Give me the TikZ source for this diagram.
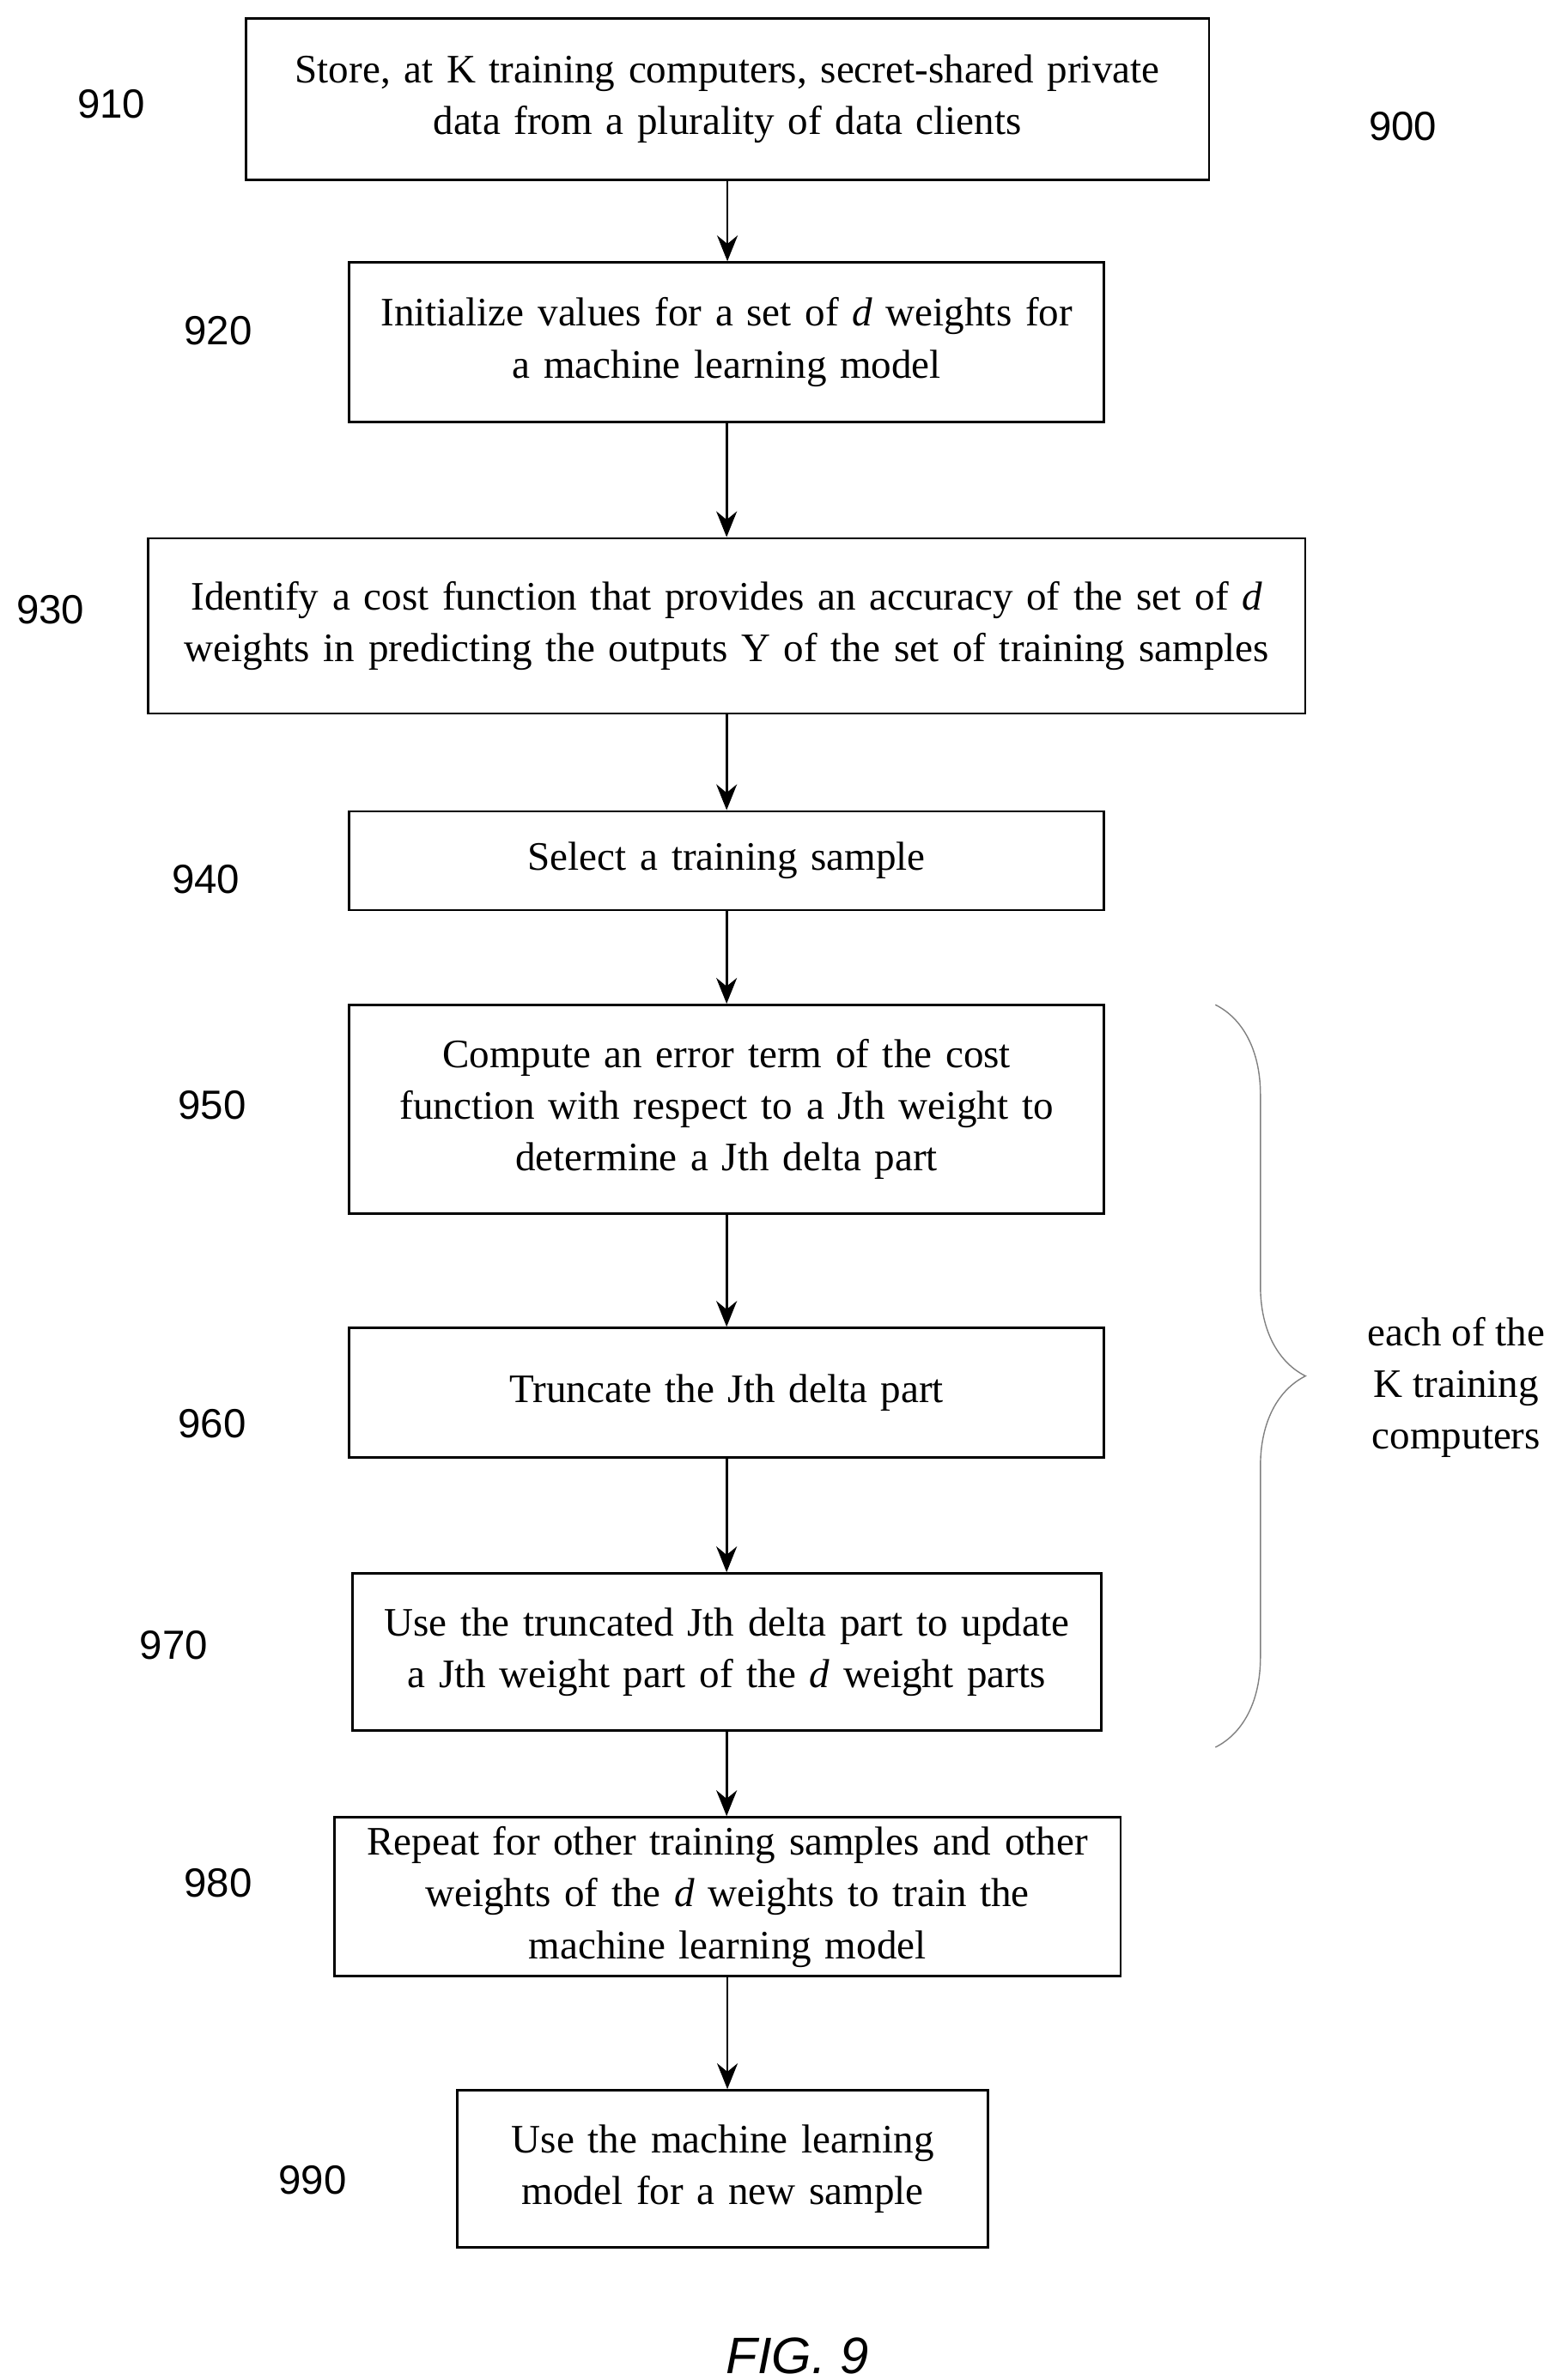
\documentclass[tikz,border=0pt]{standalone}
\usepackage{fontspec}
\setmainfont{Liberation Serif}
\newfontfamily\labelfont{Liberation Sans}
\usetikzlibrary{arrows.meta,decorations.pathreplacing}

\begin{document}
\begin{tikzpicture}[x=0.01776cm,y=-0.01776cm,
    box/.style={rectangle, draw, thick, align=center, inner sep=0pt,
                 font=\fontsize{13.4}{17.2}\selectfont},
    num/.style={font=\labelfont\fontsize{13.5}{16}\selectfont},
    flow/.style={-{Stealth[length=3mm,width=2.4mm]}, thick}]
    \useasboundingbox (0,0) rectangle (1024,1561);

    \node[box, text width=11.22cm, minimum height=1.88cm] (s910) at (477,65)
        {Store, at K training computers, secret-shared private\\ data from a plurality of data clients};
    \node[box, text width=8.79cm, minimum height=1.86cm] (s920) at (476.5,224.5)
        {Initialize values for a set of \textit{d} weights for\\ a machine learning model};
    \node[box, text width=13.48cm, minimum height=2.04cm] (s930) at (476.5,410.5)
        {Identify a cost function that provides an accuracy of the set of \textit{d}\\ weights in predicting the outputs Y of the set of training samples};
    \node[box, text width=8.79cm, minimum height=1.15cm] (s940) at (476.5,564.5)
        {Select a training sample};
    \node[box, text width=8.79cm, minimum height=2.43cm] (s950) at (476.5,727.5)
        {Compute an error term of the cost\\ function with respect to a Jth weight to\\ determine a Jth delta part};
    \node[box, text width=8.79cm, minimum height=1.51cm] (s960) at (476.5,913.5)
        {Truncate the Jth delta part};
    \node[box, text width=8.72cm, minimum height=1.83cm] (s970) at (476.5,1083.5)
        {Use the truncated Jth delta part to update\\ a Jth weight part of the \textit{d} weight parts};
    \node[box, text width=9.16cm, minimum height=1.85cm] (s980) at (477,1244)
        {Repeat for other training samples and other\\ weights of the \textit{d} weights to train the\\ machine learning model};
    \node[box, text width=6.18cm, minimum height=1.83cm] (s990) at (474,1422.5)
        {Use the machine learning\\ model for a new sample};

    \node[num] (n910) at (73,68) {910};
    \node[num] (n900) at (920,83) {900};
    \node[num] (n920) at (143,217) {920};
    \node[num] (n930) at (33,400) {930};
    \node[num] (n940) at (135,577) {940};
    \node[num] (n950) at (139,725) {950};
    \node[num] (n960) at (139,934) {960};
    \node[num] (n970) at (114,1079) {970};
    \node[num] (n980) at (143,1235) {980};
    \node[num] (n990) at (205,1430) {990};
    \node[font=\labelfont\itshape\fontsize{17}{20}\selectfont] (fig) at (523,1545) {FIG. 9};

    \foreach \a/\b in {910/920,920/930,930/940,940/950,950/960,960/970,970/980,980/990}
        \draw[flow] (s\a.south) -- (s\a.south |- s\b.north);

    \coordinate (btop) at (797,659);
    \coordinate (bbot) at (797,1146);
    \draw[gray, decorate, decoration={brace, amplitude=1.05cm}] (btop) -- (bbot);
    \node[font=\fontsize{13.4}{17.2}\selectfont, align=center] (each) at (955,910)
        {each of the\\ K training\\ computers};
\end{tikzpicture}
\end{document}
